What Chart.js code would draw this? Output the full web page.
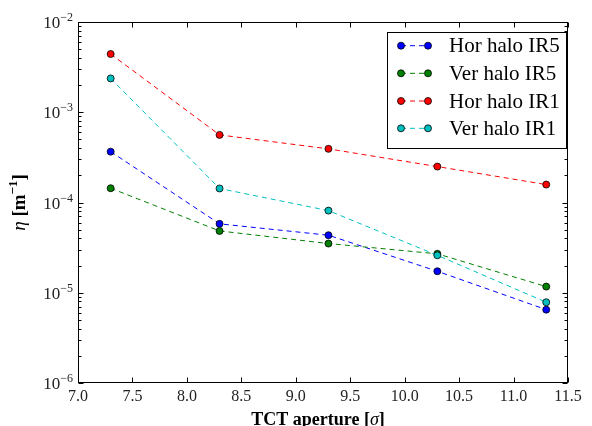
<!DOCTYPE html>
<html>
<head>
<meta charset="utf-8">
<script src="https://cdn.jsdelivr.net/npm/chart.js@4.4.0/dist/chart.umd.min.js"></script>
<style>
  html, body { margin: 0; padding: 0; background: #fff; }
  #wrap { width: 592px; height: 426px; }
</style>
</head>
<body>
<div id="wrap"><canvas id="c" width="592" height="426"></canvas></div>
<script>
// TCT aperture settings (in beam sigma)
const apertures = [7.3, 8.3, 9.3, 10.3, 11.3];

// Cleaning inefficiency eta [1/m] per halo case
const horHaloIR5 = [3.66e-4, 5.8e-5, 4.34e-5, 1.73e-5, 6.5e-6];
const verHaloIR5 = [1.44e-4, 4.84e-5, 3.51e-5, 2.7e-5, 1.17e-5];
const horHaloIR1 = [4.42e-3, 5.61e-4, 3.93e-4, 2.5e-4, 1.58e-4];
const verHaloIR1 = [2.37e-3, 1.43e-4, 8.13e-5, 2.6e-5, 7.85e-6];

const seriesNames = ['Hor halo IR5', 'Ver halo IR5', 'Hor halo IR1', 'Ver halo IR1'];
const seriesColors = ['#0000ff', '#008000', '#ff0000', '#00bfbf'];

const xTickValues = [7.0, 7.5, 8.0, 8.5, 9.0, 9.5, 10.0, 10.5, 11.0, 11.5];
const yDecadeExponents = [-6, -5, -4, -3, -2];

const SERIF = '"Liberation Serif", "DejaVu Serif", serif';

const seriesValues = [horHaloIR5, verHaloIR5, horHaloIR1, verHaloIR1];
const datasets = seriesValues.map((vals, i) => ({
  label: seriesNames[i],
  data: apertures.map((a, k) => ({ x: a, y: vals[k] })),
  borderColor: seriesColors[i],
  backgroundColor: seriesColors[i],
  borderWidth: 1,
  borderDash: [5, 4],
  pointRadius: 3.5,
  pointHoverRadius: 3.5,
  pointBackgroundColor: seriesColors[i],
  pointBorderColor: '#000',
  pointBorderWidth: 0.8,
  order: 3 - i,
  tension: 0
}));

// Draws a run of [text, font, dy] pieces left to right from (x, y)
function drawRuns(ctx, runs, x, y) {
  let cx = x;
  runs.forEach(([t, f, dy]) => {
    ctx.font = f;
    ctx.fillText(t, cx, y + (dy || 0));
    cx += ctx.measureText(t).width;
  });
  return cx - x;
}
function measureRuns(ctx, runs) {
  let w = 0;
  runs.forEach(([t, f]) => { ctx.font = f; w += ctx.measureText(t).width; });
  return w;
}

// Inward ticks on all four sides, the box frame, power-of-ten labels and axis titles
const frameAndTicks = {
  id: 'frameAndTicks',
  afterDatasetsDraw(chart) {
    const { ctx, chartArea: a, scales: { x, y } } = chart;
    const L = Math.round(a.left) + 0.5, R = Math.round(a.right) - 0.5;
    const T = Math.round(a.top) + 0.5, B = Math.round(a.bottom) - 0.5;
    ctx.save();
    ctx.strokeStyle = '#000';
    ctx.lineWidth = 1;
    ctx.beginPath();
    const major = 5, minor = 3;
    xTickValues.forEach(v => {
      const px = Math.round(x.getPixelForValue(v)) + 0.5;
      ctx.moveTo(px, B); ctx.lineTo(px, B - major);
      ctx.moveTo(px, T); ctx.lineTo(px, T + major);
    });
    yDecadeExponents.forEach(e => {
      const py = Math.round(y.getPixelForValue(Math.pow(10, e))) + 0.5;
      ctx.moveTo(L, py); ctx.lineTo(L + major, py);
      ctx.moveTo(R, py); ctx.lineTo(R - major, py);
    });
    for (let e = -6; e < -2; e++) {
      for (let m = 2; m <= 9; m++) {
        const py = Math.round(y.getPixelForValue(m * Math.pow(10, e))) + 0.5;
        ctx.moveTo(L, py); ctx.lineTo(L + minor, py);
        ctx.moveTo(R, py); ctx.lineTo(R - minor, py);
      }
    }
    ctx.stroke();
    ctx.strokeRect(L, T, R - L, B - T);

    // y tick labels: 10 with raised exponent
    ctx.fillStyle = '#222';
    ctx.textAlign = 'left';
    const baseFont = '17px ' + SERIF, expFont = '12px ' + SERIF;
    yDecadeExponents.forEach(e => {
      const py = y.getPixelForValue(Math.pow(10, e));
      const expTxt = (e < 0 ? '\u2212' : '') + Math.abs(e);
      const runs = [['10', baseFont, 0], [expTxt, expFont, -7]];
      const w = measureRuns(ctx, runs);
      ctx.textBaseline = 'alphabetic';
      drawRuns(ctx, runs, a.left - 5 - w, py + 6);
    });

    // x axis title
    ctx.fillStyle = '#000';
    const xRuns = [['TCT aperture [', 'bold 18px ' + SERIF], ['\u03C3', 'italic 18px ' + SERIF], [']', 'bold 18px ' + SERIF]];
    const xw = measureRuns(ctx, xRuns);
    drawRuns(ctx, xRuns, 318 - xw / 2, 425);

    // y axis title, rotated
    const yRuns = [['\u03B7', 'italic 19px ' + SERIF, 0], [' [m', 'bold 19px ' + SERIF, 0],
      ['\u22121', 'bold 13px ' + SERIF, -8], [']', 'bold 19px ' + SERIF, 0]];
    const yw = measureRuns(ctx, yRuns);
    ctx.translate(25, (a.top + a.bottom) / 2);
    ctx.rotate(-Math.PI / 2);
    drawRuns(ctx, yRuns, -yw / 2, 0);
    ctx.restore();
  }
};

// Boxed legend in the upper right of the plot area
const boxedLegend = {
  id: 'boxedLegend',
  afterDraw(chart) {
    const { ctx } = chart;
    const bx = 387.5, by = 32.5, bw = 179, bh = 116;
    ctx.save();
    ctx.fillStyle = '#fff';
    ctx.fillRect(bx, by, bw, bh);
    ctx.strokeStyle = '#000';
    ctx.lineWidth = 1;
    ctx.strokeRect(bx, by, bw, bh);
    const rowY = [45.7, 73.3, 101, 128.3];
    ctx.font = '21px ' + SERIF;
    ctx.textBaseline = 'middle';
    ctx.textAlign = 'left';
    chart.data.datasets.forEach((ds, i) => {
      const yy = rowY[i];
      ctx.strokeStyle = ds.borderColor;
      ctx.lineWidth = 1;
      ctx.setLineDash([5, 4]);
      ctx.beginPath();
      ctx.moveTo(401, yy); ctx.lineTo(428, yy);
      ctx.stroke();
      ctx.setLineDash([]);
      [401, 428].forEach(px => {
        ctx.beginPath();
        ctx.arc(px, yy, 3.5, 0, Math.PI * 2);
        ctx.fillStyle = ds.pointBackgroundColor;
        ctx.fill();
        ctx.lineWidth = 0.8;
        ctx.strokeStyle = '#000';
        ctx.stroke();
      });
      ctx.fillStyle = '#000';
      ctx.fillText(ds.label, 449, yy + 1);
    });
    ctx.restore();
  }
};

new Chart(document.getElementById('c'), {
  type: 'line',
  data: { datasets },
  options: {
    responsive: false,
    devicePixelRatio: 1,
    animation: false,
    layout: { padding: { top: 22, right: 24, left: 0, bottom: 0 } },
    plugins: { legend: { display: false }, tooltip: { enabled: false } },
    scales: {
      x: {
        type: 'linear',
        min: 7.0,
        max: 11.5,
        afterBuildTicks: s => { s.ticks = xTickValues.map(v => ({ value: v })); },
        afterFit: s => { s.height = 43; },
        grid: { display: false, drawTicks: false },
        border: { display: false },
        ticks: {
          padding: 4,
          color: '#222',
          font: { family: SERIF, size: 16 },
          maxRotation: 0,
          autoSkip: false,
          callback: v => Number(v).toFixed(1)
        },
        title: { display: false }
      },
      y: {
        type: 'logarithmic',
        min: 1e-6,
        max: 1e-2,
        afterBuildTicks: s => { s.ticks = yDecadeExponents.map(e => ({ value: Math.pow(10, e), major: true })); },
        afterFit: s => { s.width = 78; },
        grid: { display: false, drawTicks: false },
        border: { display: false },
        ticks: { display: false },
        title: { display: false }
      }
    }
  },
  plugins: [frameAndTicks, boxedLegend]
});
</script>
</body>
</html>
